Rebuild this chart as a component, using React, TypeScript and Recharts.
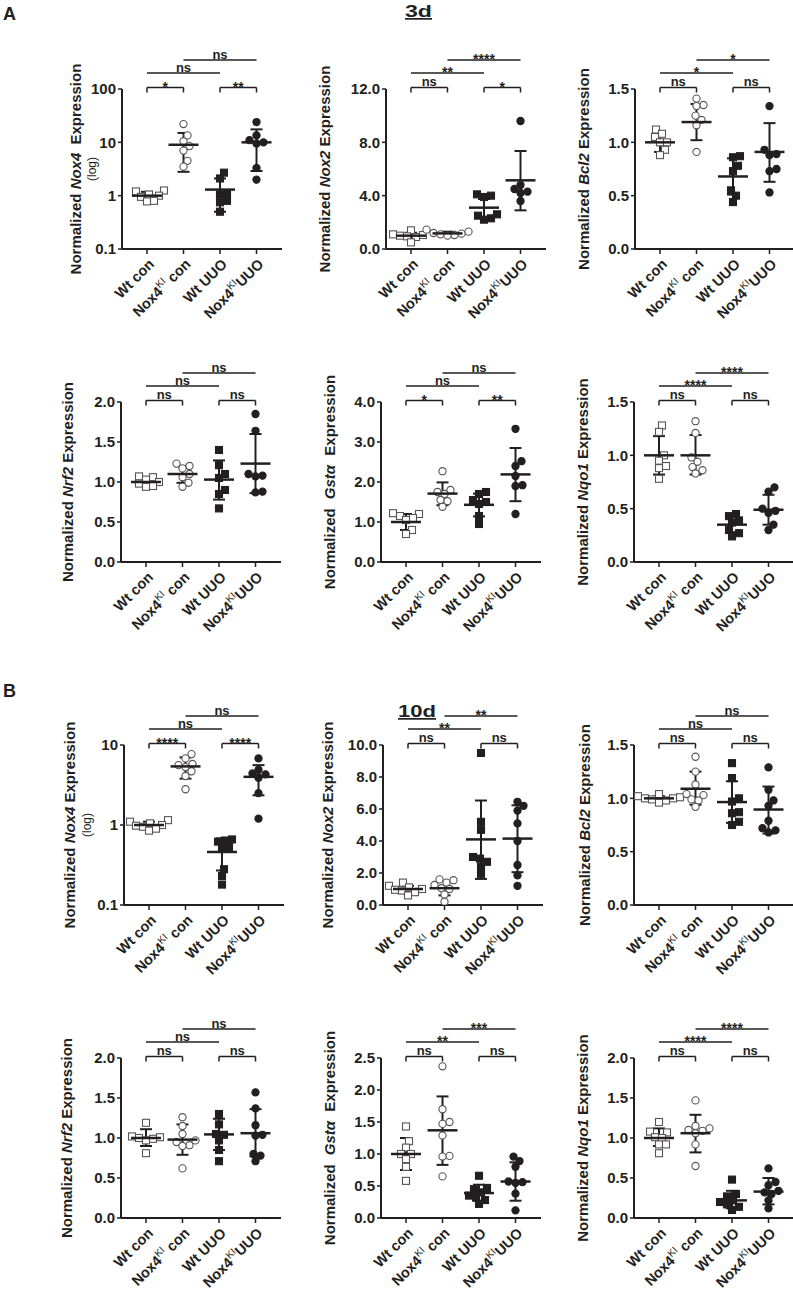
import React from 'react';
import { ScatterChart, Scatter, XAxis, YAxis, ErrorBar, ReferenceLine } from 'recharts';

const INK = '#231f20';
const FONT = '"Liberation Sans", Arial, Helvetica, sans-serif';

// x axis groups
const groupLabels = [
  { main: 'Wt con' },
  { pre: 'Nox4', sup: 'KI', post: ' con' },
  { main: 'Wt UUO' },
  { pre: 'Nox4', sup: 'KI', post: 'UUO' },
];

// y ticks
const ticksLog100 = [0.1, 1, 10, 100];
const ticksLog10 = [0.1, 1, 10];
const ticks12 = [0, 4, 8, 12];
const ticks15 = [0, 0.5, 1, 1.5];
const ticks2 = [0, 0.5, 1, 1.5, 2];
const ticks4 = [0, 1, 2, 3, 4];
const ticks10 = [0, 2, 4, 6, 8, 10];
const ticks25 = [0, 0.5, 1, 1.5, 2, 2.5];

// ---- 3d ----
const nox4_3d = [
  [1.25, 1.2, 1.05, 1.0, 0.95, 0.8, 0.78],
  [22, 13.5, 10.5, 8.5, 7, 4.5, 3.5],
  [2.7, 2.1, 1.1, 1.05, 0.8, 0.75, 0.5],
  [24, 13.5, 11, 10, 9.5, 3.3, 2.0],
];
const nox4_3d_mean = [1.0, 9.0, 1.3, 10];
const nox4_3d_sd = [[0.83, 1.18], [2.8, 15], [0.5, 2.1], [2.9, 17.5]];
const nox4_3d_sig = ['*', '**', 'ns', 'ns'];

const nox2_3d = [
  [1.4, 1.1, 1.05, 1.0, 0.95, 0.9, 0.5],
  [1.45, 1.3, 1.2, 1.15, 1.1, 1.05, 1.0],
  [4.1, 4.0, 3.9, 2.6, 2.5, 2.3, 2.2],
  [9.6, 4.8, 4.5, 4.3, 4.2, 3.6],
];
const nox2_3d_mean = [1.0, 1.17, 3.1, 5.15];
const nox2_3d_sd = [[0.78, 1.22], [1.05, 1.3], [2.35, 3.75], [2.9, 7.35]];
const nox2_3d_sig = ['ns', '*', '**', '****'];

const bcl2_3d = [
  [1.12, 1.08, 1.05, 1.0, 1.0, 0.93, 0.88],
  [1.41, 1.35, 1.34, 1.25, 1.21, 1.16, 0.91],
  [0.87, 0.86, 0.78, 0.73, 0.55, 0.5, 0.44],
  [1.34, 0.93, 0.89, 0.88, 0.75, 0.73, 0.53],
];
const bcl2_3d_mean = [1.0, 1.19, 0.68, 0.91];
const bcl2_3d_sd = [[0.91, 1.08], [1.02, 1.36], [0.51, 0.85], [0.63, 1.18]];
const bcl2_3d_sig = ['ns', 'ns', '*', '*'];

const nrf2_3d = [
  [1.07, 1.06, 1.03, 1.0, 0.98, 0.95, 0.94],
  [1.23, 1.2, 1.17, 1.1, 1.06, 0.99, 0.94],
  [1.4, 1.21, 1.1, 1.05, 0.9, 0.85, 0.67],
  [1.85, 1.64, 1.1, 1.08, 1.07, 0.88, 0.87],
];
const nrf2_3d_mean = [1.0, 1.1, 1.03, 1.23];
const nrf2_3d_sd = [[0.96, 1.04], [0.99, 1.2], [0.78, 1.27], [0.86, 1.6]];
const nrf2_3d_sig = ['ns', 'ns', 'ns', 'ns'];

const gsta_3d = [
  [1.22, 1.2, 1.15, 1.1, 1.05, 0.8, 0.7],
  [2.27, 1.8, 1.75, 1.7, 1.55, 1.52, 1.38],
  [1.75, 1.7, 1.55, 1.5, 1.45, 1.15, 0.95],
  [3.33, 2.52, 2.4, 2.15, 1.92, 1.9, 1.2],
];
const gsta_3d_mean = [1.0, 1.71, 1.43, 2.19];
const gsta_3d_sd = [[0.8, 1.2], [1.42, 1.99], [1.14, 1.71], [1.52, 2.85]];
const gsta_3d_sig = ['*', '**', 'ns', 'ns'];

const nqo1_3d = [
  [1.28, 1.22, 1.0, 0.95, 0.9, 0.88, 0.78],
  [1.32, 1.21, 0.98, 0.94, 0.89, 0.86, 0.83],
  [0.45, 0.43, 0.39, 0.37, 0.3, 0.27, 0.24],
  [0.7, 0.66, 0.5, 0.48, 0.46, 0.35, 0.3],
];
const nqo1_3d_mean = [1.0, 1.0, 0.35, 0.49];
const nqo1_3d_sd = [[0.82, 1.18], [0.82, 1.19], [0.28, 0.42], [0.35, 0.63]];
const nqo1_3d_sig = ['ns', 'ns', '****', '****'];

// ---- 10d ----
const nox4_10d = [
  [1.15, 1.1, 1.05, 1.0, 0.98, 0.95, 0.9, 0.85],
  [7.7, 6.8, 5.8, 5.6, 5.3, 4.7, 4.1, 2.8],
  [0.66, 0.64, 0.62, 0.53, 0.52, 0.28, 0.23, 0.18],
  [6.8, 4.9, 4.4, 4.3, 3.9, 2.5, 1.2],
];
const nox4_10d_mean = [1.0, 5.4, 0.46, 4.0];
const nox4_10d_sd = [[0.9, 1.1], [3.8, 7.0], [0.27, 0.68], [2.35, 5.6]];
const nox4_10d_sig = ['****', '****', 'ns', 'ns'];

const nox2_10d = [
  [1.4, 1.2, 1.1, 1.0, 0.95, 0.9, 0.8, 0.6],
  [1.6, 1.55, 1.4, 1.25, 1.05, 1.0, 0.65, 0.2],
  [9.5, 5.2, 4.7, 3.0, 2.9, 2.7, 2.4, 1.95],
  [6.45, 6.2, 5.9, 5.1, 4.0, 2.5, 1.85, 1.2],
];
const nox2_10d_mean = [1.0, 1.05, 4.1, 4.15];
const nox2_10d_sd = [[0.8, 1.2], [0.6, 1.5], [1.63, 6.53], [2.05, 6.23]];
const nox2_10d_sig = ['ns', 'ns', '**', '**'];

const bcl2_10d = [
  [1.04, 1.02, 1.01, 1.0, 1.0, 0.99, 0.98, 0.96],
  [1.39, 1.25, 1.13, 1.04, 1.03, 0.99, 0.98, 0.92],
  [1.33, 1.19, 1.0, 0.97, 0.87, 0.86, 0.78, 0.75],
  [1.29, 1.08, 0.98, 0.93, 0.79, 0.72, 0.7, 0.68],
];
const bcl2_10d_mean = [1.0, 1.09, 0.965, 0.895];
const bcl2_10d_sd = [[0.98, 1.02], [0.94, 1.25], [0.77, 1.16], [0.67, 1.11]];
const bcl2_10d_sig = ['ns', 'ns', 'ns', 'ns'];

const nrf2_10d = [
  [1.19, 1.02, 1.01, 1.0, 0.99, 0.97, 0.81],
  [1.26, 1.15, 1.05, 0.97, 0.95, 0.91, 0.9, 0.62],
  [1.3, 1.17, 1.05, 1.04, 0.97, 0.85, 0.71],
  [1.57, 1.37, 1.16, 1.04, 1.03, 0.8, 0.78, 0.71],
];
const nrf2_10d_mean = [1.0, 0.98, 1.045, 1.06];
const nrf2_10d_sd = [[0.9, 1.11], [0.79, 1.17], [0.85, 1.24], [0.77, 1.36]];
const nrf2_10d_sig = ['ns', 'ns', 'ns', 'ns'];

const gsta_10d = [
  [1.43, 1.2, 1.1, 1.0, 1.0, 0.92, 0.8, 0.58],
  [2.37, 1.7, 1.5, 1.47, 1.29, 0.97, 0.96, 0.65],
  [0.66, 0.47, 0.45, 0.4, 0.35, 0.32, 0.28, 0.22],
  [0.96, 0.89, 0.8, 0.57, 0.56, 0.55, 0.38, 0.12],
];
const gsta_10d_mean = [1.0, 1.37, 0.39, 0.57];
const gsta_10d_sd = [[0.75, 1.25], [0.83, 1.9], [0.27, 0.52], [0.27, 0.87]];
const gsta_10d_sig = ['ns', 'ns', '**', '***'];

const nqo1_10d = [
  [1.2, 1.08, 1.07, 1.01, 1.0, 0.92, 0.92, 0.81],
  [1.47, 1.15, 1.12, 1.1, 1.09, 1.06, 0.92, 0.65],
  [0.48, 0.3, 0.27, 0.22, 0.2, 0.17, 0.14, 0.1],
  [0.62, 0.45, 0.41, 0.34, 0.32, 0.3, 0.22, 0.12],
];
const nqo1_10d_mean = [1.0, 1.06, 0.22, 0.33];
const nqo1_10d_sd = [[0.9, 1.12], [0.82, 1.29], [0.12, 0.34], [0.17, 0.5]];
const nqo1_10d_sig = ['ns', 'ns', '****', '****'];

// layout
const PW = 160;
const PH = 160;
const BAND = 36.5;
const XMIN = -25 / BAND;
const XMAX = XMIN + PW / BAND;
const YW = 50;
const MT = 50;
const XH = 90;
const MR = 5;

const panels = [
  { pts: nox4_3d, mean: nox4_3d_mean, sd: nox4_3d_sd, sig: nox4_3d_sig, ticks: ticksLog100, log: true, gene: 'Nox4', gapA: 0, gapB: 4, ax: 122, top: 89, lab: 46, logLab: 30 },
  { pts: nox2_3d, mean: nox2_3d_mean, sd: nox2_3d_sd, sig: nox2_3d_sig, ticks: ticks12, gene: 'Nox2', ax: 386, top: 89, lab: 61 },
  { pts: bcl2_3d, mean: bcl2_3d_mean, sd: bcl2_3d_sd, sig: bcl2_3d_sig, ticks: ticks15, gene: 'Bcl2', ax: 635, top: 89, lab: 51 },
  { pts: nrf2_3d, mean: nrf2_3d_mean, sd: nrf2_3d_sd, sig: nrf2_3d_sig, ticks: ticks2, gene: 'Nrf2', ax: 121, top: 402, lab: 53 },
  { pts: gsta_3d, mean: gsta_3d_mean, sd: gsta_3d_sd, sig: gsta_3d_sig, ticks: ticks4, gene: 'Gstα', gapA: 5, gapB: 5, ax: 381, top: 402, lab: 51 },
  { pts: nqo1_3d, mean: nqo1_3d_mean, sd: nqo1_3d_sd, sig: nqo1_3d_sig, ticks: ticks15, gene: 'Nqo1', ax: 634, top: 402, lab: 51 },
  { pts: nox4_10d, mean: nox4_10d_mean, sd: nox4_10d_sd, sig: nox4_10d_sig, ticks: ticksLog10, log: true, gene: 'Nox4', ax: 124, top: 745, lab: 54, logLab: 37 },
  { pts: nox2_10d, mean: nox2_10d_mean, sd: nox2_10d_sd, sig: nox2_10d_sig, ticks: ticks10, gene: 'Nox2', ax: 383, top: 745, lab: 55 },
  { pts: bcl2_10d, mean: bcl2_10d_mean, sd: bcl2_10d_sd, sig: bcl2_10d_sig, ticks: ticks15, gene: 'Bcl2', ax: 634, top: 745, lab: 49 },
  { pts: nrf2_10d, mean: nrf2_10d_mean, sd: nrf2_10d_sd, sig: nrf2_10d_sig, ticks: ticks2, gene: 'Nrf2', ax: 121, top: 1058, lab: 54 },
  { pts: gsta_10d, mean: gsta_10d_mean, sd: gsta_10d_sd, sig: gsta_10d_sig, ticks: ticks25, gene: 'Gstα', gapA: 5, gapB: 5, ax: 381, top: 1058, lab: 51 },
  { pts: nqo1_10d, mean: nqo1_10d_mean, sd: nqo1_10d_sd, sig: nqo1_10d_sig, ticks: ticks2, gene: 'Nqo1', ax: 634, top: 1058, lab: 51 },
];

// spread points sideways so they don't overlap (pixel units)
function swarm(values: number[], toPx: (v: number) => number) {
  const order = values.map((_, i) => i).sort((a, b) => values[a] - values[b]);
  const placed: { x: number; y: number }[] = [];
  const offs = values.map(() => 0);
  for (const i of order) {
    const y = toPx(values[i]);
    for (let k = 0; k < 60; k++) {
      const dx = k === 0 ? 0 : (k % 2 ? 1 : -1) * Math.ceil(k / 2);
      if (placed.every(q => Math.hypot(q.x - dx, q.y - y) >= 7)) {
        offs[i] = dx;
        placed.push({ x: dx, y });
        break;
      }
    }
  }
  return offs;
}

function Marker(props: any) {
  const { cx, cy, kind } = props;
  const open = kind < 2;
  const fill = open ? '#fff' : INK;
  const stroke = open ? '#555' : INK;
  if (kind % 2 === 0) {
    return <rect x={cx - 3.5} y={cy - 3.5} width={7} height={7} fill={fill} stroke={stroke} strokeWidth={1.1} />;
  }
  return <circle cx={cx} cy={cy} r={3.6} fill={fill} stroke={stroke} strokeWidth={1.1} />;
}

const MeanBar = (p: any) => (
  <line x1={p.cx - 15} x2={p.cx + 15} y1={p.cy} y2={p.cy} stroke={INK} strokeWidth={2.5} />
);

function GroupTick(props: any) {
  const { x, y, payload } = props;
  const g: any = groupLabels[payload.value];
  return (
    <g transform={`translate(${x + 8},${y + 9}) rotate(-45)`}>
      <text textAnchor="end" fontFamily={FONT} fontSize={14.5} fontWeight="bold" fill={INK}>
        {g.sup ? (
          <>
            <tspan>{g.pre}</tspan>
            <tspan fontSize={10} fontWeight="normal" dy={-6}>{g.sup}</tspan>
            <tspan dy={6}>{g.post}</tspan>
          </>
        ) : g.main}
      </text>
    </g>
  );
}

function Panel({ p }: { p: any }) {
  const ticks: number[] = p.ticks;
  const lo = ticks[0];
  const hi = ticks[ticks.length - 1];
  const toPx = (v: number) =>
    p.log ? (Math.log10(v / lo) / Math.log10(hi / lo)) * PH : ((v - lo) / (hi - lo)) * PH;
  // data value a given number of pixels above the top of the axis
  const above = (px: number) =>
    p.log ? hi * Math.pow(hi / lo, px / PH) : hi + ((hi - lo) * px) / PH;

  const series = p.pts.map((vals: number[], gi: number) => {
    const offs = swarm(vals, toPx);
    return vals.map((v, i) => ({ x: gi + offs[i] / BAND, y: v }));
  });
  const summary = p.mean.map((m: number, gi: number) => ({
    x: gi,
    y: m,
    err: [m - p.sd[gi][0], p.sd[gi][1] - m],
  }));

  const yS = above(1.5);
  const yD = above(-3.5);
  const y1 = above(16);
  const y2 = above(29);
  const brackets = [
    { a: 0, b: 1, y: yS, t: p.sig[0], drop: true },
    { a: 2, b: 3, y: yS, t: p.sig[1], drop: true },
    { a: 0, b: 2, y: y1, t: p.sig[2], drop: false },
    { a: 1, b: 3, y: y2, t: p.sig[3], drop: false },
  ];
  const lab = (t: string) => {
    const star = t.startsWith('*');
    return {
      value: t,
      position: 'top' as const,
      offset: star ? -4 : 1.5,
      fill: INK,
      fontSize: star ? 14 : 13,
      fontWeight: 'bold',
      fontFamily: FONT,
    };
  };

  return (
    <div style={{ position: 'absolute', left: p.ax - YW, top: p.top - MT }}>
      <ScatterChart
        width={YW + PW + MR}
        height={MT + PH + XH}
        margin={{ top: MT, right: MR, bottom: 0, left: 0 }}
        style={{ overflow: 'visible' }}
      >
        <XAxis
          type="number"
          dataKey="x"
          domain={[XMIN, XMAX]}
          ticks={[0, 1, 2, 3]}
          interval={0}
          allowDataOverflow
          height={XH}
          tickSize={5}
          axisLine={{ stroke: INK, strokeWidth: 2 }}
          tickLine={{ stroke: INK, strokeWidth: 1.5 }}
          tick={GroupTick}
        />
        <YAxis
          type="number"
          dataKey="y"
          scale={p.log ? 'log' : 'linear'}
          domain={[lo, hi]}
          ticks={ticks}
          interval={0}
          allowDataOverflow
          width={YW}
          tickSize={4}
          tickMargin={2}
          axisLine={{ stroke: INK, strokeWidth: 2 }}
          tickLine={{ stroke: INK, strokeWidth: 1.5 }}
          tick={{ fill: INK, fontSize: 15, fontWeight: 'bold', fontFamily: FONT }}
          tickFormatter={(v: number) => (p.log ? String(v) : v.toFixed(1))}
        />
        {series.map((d: any[], gi: number) => (
          <Scatter
            key={gi}
            data={d}
            isAnimationActive={false}
            shape={(sp: any) => <Marker {...sp} kind={gi} />}
          />
        ))}
        <Scatter data={summary} isAnimationActive={false} shape={MeanBar}>
          <ErrorBar dataKey="err" direction="y" width={6} strokeWidth={2} stroke={INK} isAnimationActive={false} />
        </Scatter>
        {brackets.map((br, i) => (
          <ReferenceLine
            key={`h${i}`}
            segment={[{ x: br.a, y: br.y }, { x: br.b, y: br.y }]}
            stroke={INK}
            strokeWidth={1.5}
            ifOverflow="visible"
            label={lab(br.t)}
          />
        ))}
        {brackets.filter(br => br.drop).flatMap((br, i) => [
          <ReferenceLine key={`da${i}`} segment={[{ x: br.a, y: br.y }, { x: br.a, y: yD }]} stroke={INK} strokeWidth={1.5} ifOverflow="visible" />,
          <ReferenceLine key={`db${i}`} segment={[{ x: br.b, y: br.y }, { x: br.b, y: yD }]} stroke={INK} strokeWidth={1.5} ifOverflow="visible" />,
        ])}
      </ScatterChart>
    </div>
  );
}

function YLabel({ p }: { p: any }) {
  const x = p.ax - p.lab + 5;
  const y = p.top + PH / 2;
  return (
    <g>
      <text
        transform={`translate(${x},${y}) rotate(-90)`}
        textAnchor="middle"
        fontFamily={FONT}
        fontWeight="bold"
        fontSize={15}
        fill={INK}
      >
        <tspan>Normalized </tspan>
        <tspan fontStyle="italic" dx={p.gapA || 0}>{p.gene}</tspan>
        <tspan dx={p.gapB || 0}> Expression</tspan>
      </text>
      {p.log && (
        <text
          transform={`translate(${p.ax - p.logLab + 4},${y}) rotate(-90)`}
          textAnchor="middle"
          fontFamily={FONT}
          fontSize={12}
          fill={INK}
        >
          (log)
        </text>
      )}
    </g>
  );
}

export default function App() {
  return (
    <div style={{ position: 'absolute', left: 0, top: 0, width: 793, height: 1293, background: '#fff', fontFamily: FONT }}>
      {panels.map((p, i) => (
        <Panel key={i} p={p} />
      ))}
      <svg width={793} height={1293} style={{ position: 'absolute', left: 0, top: 0, pointerEvents: 'none' }}>
        <text x={3} y={20} fontFamily={FONT} fontWeight="bold" fontSize={18} fill={INK}>A</text>
        <text x={3} y={697} fontFamily={FONT} fontWeight="bold" fontSize={18} fill={INK}>B</text>
        <text x={405} y={17} fontFamily={FONT} fontWeight="bold" fontSize={17} fill={INK} textDecoration="underline" textLength={27} lengthAdjust="spacingAndGlyphs">3d</text>
        <text x={398} y={717} fontFamily={FONT} fontWeight="bold" fontSize={17} fill={INK} textDecoration="underline" textLength={38} lengthAdjust="spacingAndGlyphs">10d</text>
        {panels.map((p, i) => (
          <YLabel key={i} p={p} />
        ))}
      </svg>
    </div>
  );
}
